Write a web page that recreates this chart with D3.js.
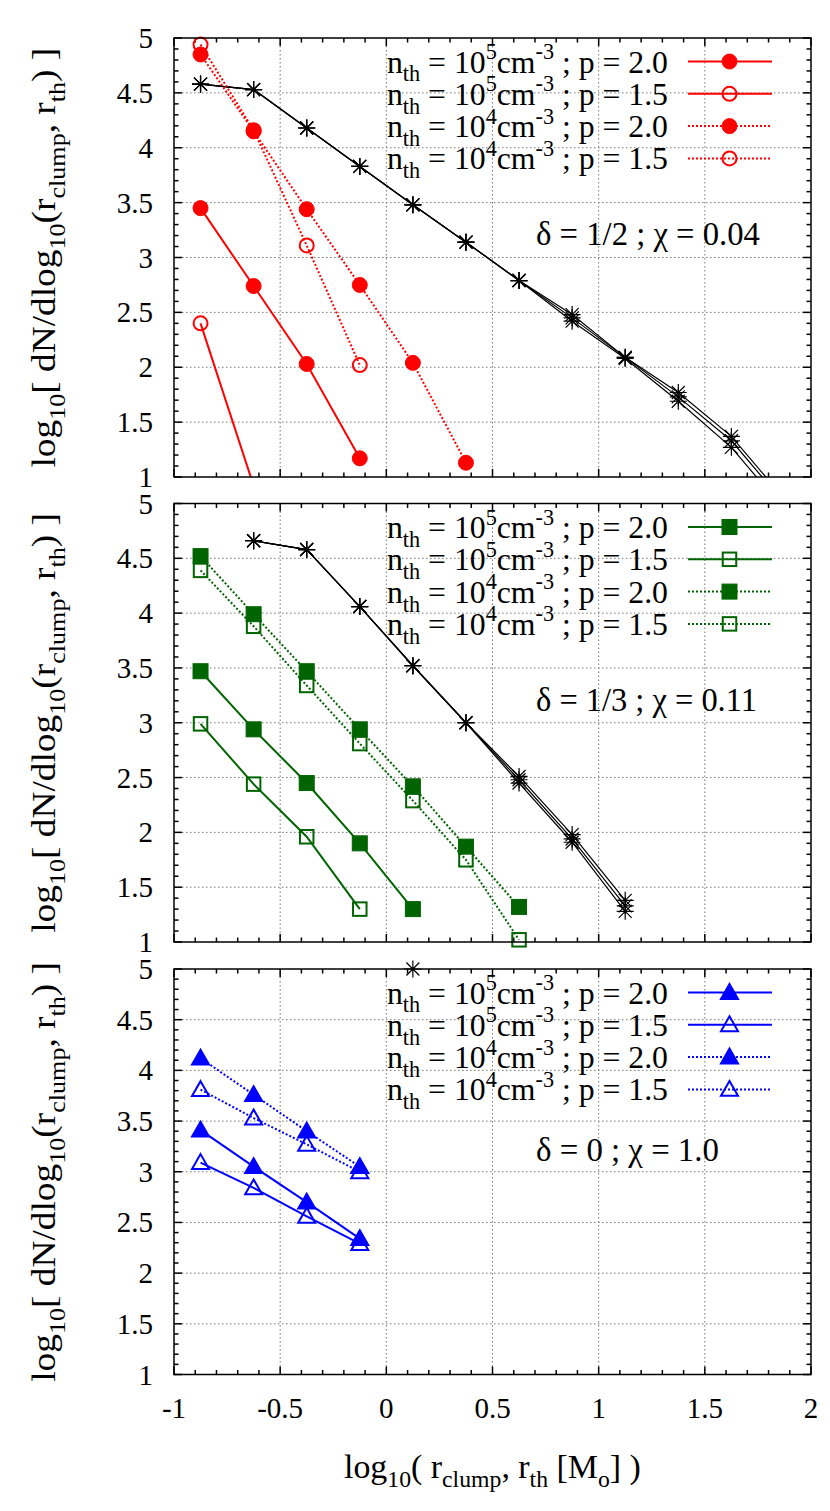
<!DOCTYPE html>
<html><head><meta charset="utf-8">
<script src="https://cdn.jsdelivr.net/npm/d3@7"></script>
<style>
body{margin:0;background:#fff}
svg text{font-family:"Liberation Serif","DejaVu Serif","Times New Roman",serif;white-space:pre;fill:#000}
</style>
</head><body>
<svg id="c" width="830" height="1511" font-family="Liberation Serif, DejaVu Serif, serif"></svg>
<script>
// ---------------- DATA ----------------
const xBins = [-0.875,-0.625,-0.375,-0.125,0.125,0.375,0.625,0.875,1.125,1.375,1.625,1.875];
const xTicks = [-1,-0.5,0,0.5,1,1.5,2];
const xTickLabels = ["-1","-0.5","0","0.5","1","1.5","2"];
const yTicks = [1,1.5,2,2.5,3,3.5,4,4.5,5];
const yTickLabels = ["1","1.5","2","2.5","3","3.5","4","4.5","5"];
const legendLabels = [
  ["n",["th","sub"]," = 10",["5","sup"],"cm",["-3","sup"]," ; p = 2.0"],
  ["n",["th","sub"]," = 10",["5","sup"],"cm",["-3","sup"]," ; p = 1.5"],
  ["n",["th","sub"]," = 10",["4","sup"],"cm",["-3","sup"]," ; p = 2.0"],
  ["n",["th","sub"]," = 10",["4","sup"],"cm",["-3","sup"]," ; p = 1.5"]
];
const panelNotes = ["δ = 1/2 ; χ = 0.04","δ = 1/3 ; χ = 0.11","δ = 0 ; χ = 1.0"];

// Panel 1 (delta = 1/2)  — values start at xBins[0]
const p1_n5_p20 = [3.45,2.74,2.03,1.17];
const p1_n5_p15 = [2.40,0.92];
const p1_n4_p20 = [4.85,4.15,3.44,2.75,2.04,1.13];
const p1_n4_p15 = [4.94,4.16,3.11,2.02];
const p1_starsA = [4.58,4.53,4.18,3.83,3.48,3.14,2.79,2.48,2.09,1.77,1.37,0.80];
const p1_starsB = [4.58,4.53,4.18,3.83,3.48,3.14,2.79,2.45,2.09,1.73,1.33,0.76];
const p1_starsC = [4.58,4.53,4.18,3.83,3.48,3.14,2.79,2.42,2.08,1.69,1.27,0.70];
// Panel 2 (delta = 1/3)
const p2_n5_p20 = [3.47,2.94,2.45,1.90,1.30];
const p2_n5_p15 = [2.99,2.44,1.96,1.30];
const p2_n4_p20 = [4.52,3.99,3.47,2.94,2.42,1.87,1.32];
const p2_n4_p15 = [4.39,3.88,3.34,2.81,2.29,1.75,1.02];
// stars of panel 2 start at xBins[1]
const p2_starsA = [4.66,4.58,4.06,3.52,3.00,2.51,1.98,1.38];
const p2_starsB = [4.66,4.58,4.06,3.52,3.00,2.48,1.94,1.33];
const p2_starsC = [4.66,4.58,4.06,3.52,3.00,2.45,1.91,1.28];
// Panel 3 (delta = 0)
const p3_n5_p20 = [3.41,3.05,2.70,2.34];
const p3_n5_p15 = [3.09,2.84,2.56,2.29];
const p3_n4_p20 = [4.12,3.76,3.40,3.05];
const p3_n4_p15 = [3.81,3.53,3.27,3.00];
// single star of panel 3 at xBins[4]
const p3_stars = [5.0];

// ---------------- LAYOUT ----------------
const svg = d3.select("#c");
const FONT = "Liberation Serif, DejaVu Serif, serif";
const X0 = 174, X1 = 811;
const x = d3.scaleLinear().domain([-1,2]).range([X0,X1]);
const panels = [
  {top:38, bottom:477, color:"#ff0000", marker:"circle",
   series:[p1_n5_p20,p1_n5_p15,p1_n4_p20,p1_n4_p15],
   stars:[p1_starsA,p1_starsB,p1_starsC], starStart:0, note:panelNotes[0], noteW:224},
  {top:503.5, bottom:942, color:"#006400", marker:"square",
   series:[p2_n5_p20,p2_n5_p15,p2_n4_p20,p2_n4_p15],
   stars:[p2_starsA,p2_starsB,p2_starsC], starStart:1, note:panelNotes[1], noteW:221},
  {top:969, bottom:1374.5, color:"#0000ff", marker:"triangle",
   series:[p3_n5_p20,p3_n5_p15,p3_n4_p20,p3_n4_p15],
   stars:[p3_stars], starStart:4, note:panelNotes[2], noteW:183}
];
const styles = [ {fill:true, dash:null}, {fill:false, dash:null}, {fill:true, dash:"2,2"}, {fill:false, dash:"2,2"} ];

function richText(parent, parts, fs){
  const t = parent.append("text").attr("font-size", fs).attr("font-family", FONT);
  let shift = 0;
  parts.forEach(p=>{
    const [s,kind] = typeof p === "string" ? [p,"n"] : p;
    const target = kind==="sub" ? fs*0.28 : kind==="sup" ? -fs*0.42 : 0;
    t.append("tspan").attr("dy", target-shift).attr("font-size", kind==="n"?fs:fs*0.7).text(s);
    shift = target;
  });
  return t;
}
function placeText(parent, parts, fs, o){
  const g = parent.append("g");
  const t = richText(g, parts, fs);
  const bb = t.node().getBBox();
  const sx = o.w ? o.w/bb.width : 1;
  const tx = o.anchor==="end" ? -bb.width*sx : o.anchor==="middle" ? -bb.width*sx/2 : 0;
  t.attr("transform", `translate(${tx - bb.x*sx},0) scale(${sx},1)`);
  g.attr("transform", `translate(${o.x},${o.y})` + (o.rotate ? ` rotate(${o.rotate})` : ""));
  return g;
}
function marker(g, type, cx, cy, color, filled){
  if(type==="circle"){
    g.append("circle").attr("cx",cx).attr("cy",cy).attr("r", filled?7.5:7)
      .attr("fill", filled?color:"none").attr("stroke",color).attr("stroke-width",filled?1:2);
  } else if(type==="square"){
    const s = filled?15:13.5;
    g.append("rect").attr("x",cx-s/2).attr("y",cy-s/2).attr("width",s).attr("height",s)
      .attr("fill", filled?color:"none").attr("stroke",color).attr("stroke-width",filled?1:2);
  } else if(type==="triangle"){
    const h = 8.5;
    const pts = [[cx,cy-h],[cx+h,cy+h*0.75],[cx-h,cy+h*0.75]];
    g.append("polygon").attr("points", pts.map(p=>p.join(",")).join(" "))
      .attr("fill", filled?color:"none").attr("stroke",color).attr("stroke-width",2);
  }
}
function star(g, cx, cy){
  const a=8.5, b=6.5;
  g.append("path").attr("d",`M${cx-a},${cy}L${cx+a},${cy}M${cx},${cy-a}L${cx},${cy+a}M${cx-b},${cy-b}L${cx+b},${cy+b}M${cx-b},${cy+b}L${cx+b},${cy-b}`)
    .attr("stroke","#000").attr("stroke-width",1.2).attr("fill","none");
}

panels.forEach((P,pi)=>{
  const y = d3.scaleLinear().domain([1,5]).range([P.bottom,P.top]);
  const g = svg.append("g");
  const clipId = "clip"+pi;
  svg.append("clipPath").attr("id",clipId).append("rect")
    .attr("x",X0).attr("y",P.top).attr("width",X1-X0).attr("height",P.bottom-P.top);

  // grid
  const grid = g.append("g").attr("stroke","#777").attr("stroke-width",1).attr("stroke-dasharray","1.5,2.5");
  xTicks.slice(1,-1).forEach(v=>grid.append("line").attr("x1",x(v)).attr("x2",x(v)).attr("y1",P.top).attr("y2",P.bottom));
  yTicks.slice(1,-1).forEach(v=>grid.append("line").attr("x1",X0).attr("x2",X1).attr("y1",y(v)).attr("y2",y(v)));

  // ticks
  const tk = g.append("g").attr("stroke","#000").attr("stroke-width",1.5);
  d3.range(-10,21).forEach(i=>{
    const v=i/10, L = (i%5===0)?8:4.5, px=x(v);
    tk.append("line").attr("x1",px).attr("x2",px).attr("y1",P.bottom).attr("y2",P.bottom-L);
    tk.append("line").attr("x1",px).attr("x2",px).attr("y1",P.top).attr("y2",P.top+L);
  });
  d3.range(10,51).forEach(i=>{
    const v=i/10, L = (i%5===0)?8:4.5, py=y(v);
    tk.append("line").attr("x1",X0).attr("x2",X0+L).attr("y1",py).attr("y2",py);
    tk.append("line").attr("x1",X1).attr("x2",X1-L).attr("y1",py).attr("y2",py);
  });

  // y tick labels
  yTicks.forEach((v,i)=>{
    g.append("text").attr("x",153).attr("y",y(v)+10).attr("text-anchor","end").attr("font-size",29)
      .attr("font-family",FONT).text(yTickLabels[i]);
  });

  // y axis title
  placeText(g, ["log",["10","sub"],"[ dN/dlog",["10","sub"],"(r",["clump","sub"],", r",["th","sub"],") ]"], 34,
    {x:55, y:(P.top+P.bottom)/2, anchor:"middle", rotate:-90, w:420});

  // data lines (clipped)
  const line = d3.line().x(d=>x(d[0])).y(d=>y(d[1]));
  const dl = g.append("g").attr("clip-path",`url(#${clipId})`);
  P.stars.forEach(s=>{
    const pts = s.map((v,i)=>[xBins[P.starStart+i],v]);
    dl.append("path").attr("d",line(pts)).attr("fill","none").attr("stroke","#000").attr("stroke-width",1.2);
  });
  P.series.forEach((s,si)=>{
    const pts = s.map((v,i)=>[xBins[i],v]);
    dl.append("path").attr("d",line(pts)).attr("fill","none").attr("stroke",P.color)
      .attr("stroke-width",2).attr("stroke-dasharray",styles[si].dash);
  });
  // markers
  const mk = g.append("g");
  P.stars.forEach(s=>s.forEach((v,i)=>{ if(v>=0.99 && v<=5.01) star(mk, x(xBins[P.starStart+i]), y(v)); }));
  [3,2,1,0].forEach(si=>{
    P.series[si].forEach((v,i)=>{ if(v>=0.99 && v<=5.01) marker(mk, P.marker, x(xBins[i]), y(v), P.color, styles[si].fill); });
  });

  // legend
  legendLabels.forEach((parts,k)=>{
    const ry = P.top + 23.5 + k*32.3;
    placeText(g, parts, 32, {x:668, y:ry+11, anchor:"end", w:281});
    g.append("line").attr("x1",688).attr("x2",772).attr("y1",ry).attr("y2",ry)
      .attr("stroke",P.color).attr("stroke-width",2).attr("stroke-dasharray",styles[k].dash);
    marker(g, P.marker, 729.5, ry, P.color, styles[k].fill);
  });

  // annotation
  placeText(g, [P.note], 33, {x:536, y:y(3.11), anchor:"start", w:P.noteW});

  // border
  g.append("rect").attr("x",X0).attr("y",P.top).attr("width",X1-X0).attr("height",P.bottom-P.top)
    .attr("fill","none").attr("stroke","#000").attr("stroke-width",1.5);
});

// x tick labels
xTicks.forEach((v,i)=>{
  svg.append("text").attr("x",x(v)).attr("y",1418).attr("text-anchor","middle").attr("font-size",29)
    .attr("font-family",FONT).text(xTickLabels[i]);
});
// x axis title
placeText(svg, ["log",["10","sub"],"( r",["clump","sub"],", r",["th","sub"]," [M",["o","sub"],"] )"], 33,
  {x:(X0+X1)/2, y:1478, anchor:"middle", w:297});
</script>
</body></html>
